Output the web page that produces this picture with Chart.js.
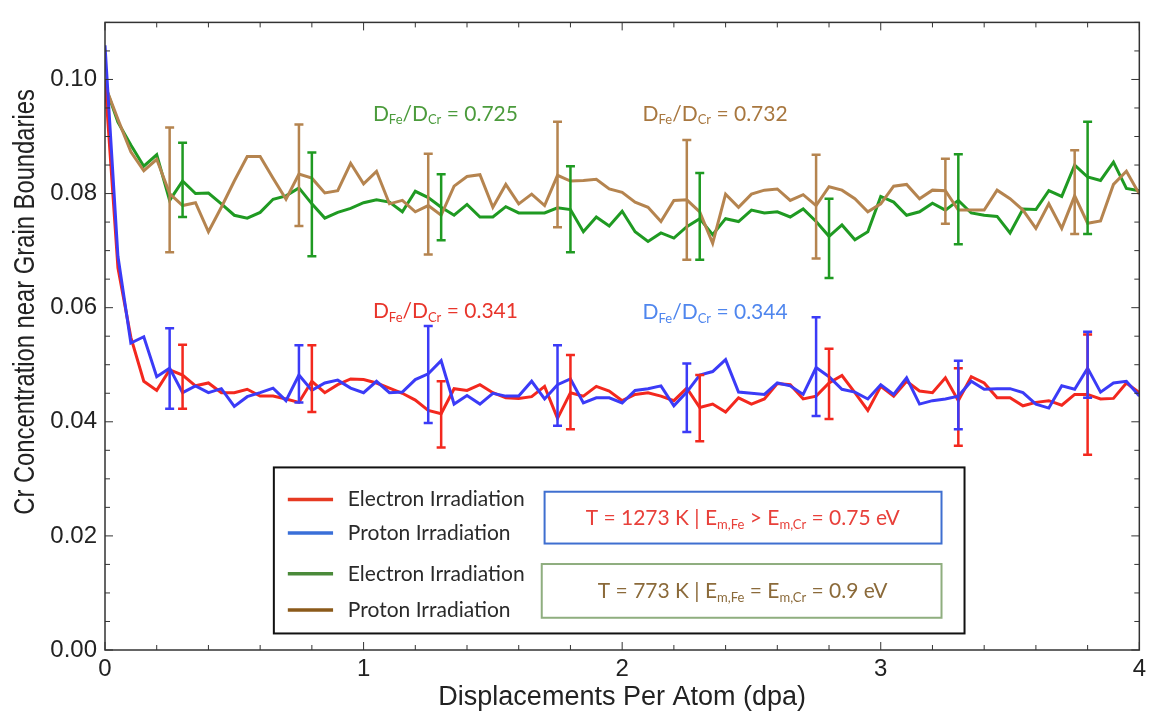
<!DOCTYPE html>
<html>
<head>
<meta charset="utf-8">
<script src="https://cdn.jsdelivr.net/npm/chart.js@4.4.1/dist/chart.umd.min.js"></script>
<style>
  html, body { margin: 0; padding: 0; background: #fff; }
  #wrap { width: 1151px; height: 714px; }
</style>
</head>
<body>
<div id="wrap"><canvas id="crChart" width="1151" height="714"></canvas></div>
<script>
// displacements per atom (x grid of the simulation output)
const dpa = [0, 0.05, 0.1, 0.15, 0.2, 0.25, 0.3, 0.35, 0.4, 0.45, 0.5, 0.55, 0.6, 0.65, 0.7, 0.75, 0.8, 0.85, 0.9, 0.95,
  1, 1.05, 1.1, 1.15, 1.2, 1.25, 1.3, 1.35, 1.4, 1.45, 1.5, 1.55, 1.6, 1.65, 1.7, 1.75, 1.8, 1.85, 1.9, 1.95,
  2, 2.05, 2.1, 2.15, 2.2, 2.25, 2.3, 2.35, 2.4, 2.45, 2.5, 2.55, 2.6, 2.65, 2.7, 2.75, 2.8, 2.85, 2.9, 2.95,
  3, 3.05, 3.1, 3.15, 3.2, 3.25, 3.3, 3.35, 3.4, 3.45, 3.5, 3.55, 3.6, 3.65, 3.7, 3.75, 3.8, 3.85, 3.9, 3.95, 4];

// 773 K, electron irradiation (green)
const green773 = [0.0990, 0.0925, 0.0885, 0.0848, 0.0868, 0.0788, 0.0822, 0.0800, 0.0801, 0.0782, 0.0762, 0.0757, 0.0767, 0.0790, 0.0796, 0.0810, 0.0782, 0.0757, 0.0767, 0.0774,
  0.0784, 0.0789, 0.0785, 0.0768, 0.0804, 0.0793, 0.0776, 0.0762, 0.0781, 0.0759, 0.0759, 0.0777, 0.0766, 0.0766, 0.0766, 0.0775, 0.0772, 0.0733, 0.0759, 0.0743,
  0.0769, 0.0733, 0.0716, 0.0731, 0.0722, 0.0742, 0.0756, 0.0728, 0.0756, 0.0751, 0.0771, 0.0766, 0.0768, 0.0759, 0.0773, 0.0751, 0.0725, 0.0745, 0.0719, 0.0733,
  0.0795, 0.0785, 0.0762, 0.0768, 0.0783, 0.0771, 0.0788, 0.0766, 0.0762, 0.0760, 0.0731, 0.0773, 0.0772, 0.0805, 0.0795, 0.0850, 0.0829, 0.0823, 0.0855, 0.0809, 0.0805];

// 773 K, proton irradiation (brown)
const brown773 = [0.0990, 0.0930, 0.0873, 0.0840, 0.0860, 0.0800, 0.0779, 0.0784, 0.0733, 0.0776, 0.0822, 0.0865, 0.0865, 0.0827, 0.0790, 0.0834, 0.0827, 0.0801, 0.0805, 0.0853,
  0.0817, 0.0839, 0.0782, 0.0788, 0.0768, 0.0779, 0.0762, 0.0813, 0.0830, 0.0833, 0.0776, 0.0816, 0.0782, 0.0799, 0.0779, 0.0832, 0.0822, 0.0823, 0.0825, 0.0808,
  0.0802, 0.0785, 0.0776, 0.0751, 0.0788, 0.0789, 0.0768, 0.0713, 0.0799, 0.0776, 0.0799, 0.0806, 0.0808, 0.0788, 0.0798, 0.0779, 0.0812, 0.0806, 0.0791, 0.0768,
  0.0782, 0.0813, 0.0816, 0.0791, 0.0806, 0.0805, 0.0771, 0.0771, 0.0771, 0.0806, 0.0791, 0.0771, 0.0739, 0.0782, 0.0739, 0.0796, 0.0748, 0.0752, 0.0816, 0.0839, 0.0799];

// 1273 K, electron irradiation (red)
const red1273 = [0.1000, 0.0670, 0.0548, 0.0471, 0.0455, 0.0491, 0.0482, 0.0463, 0.0468, 0.0451, 0.0451, 0.0457, 0.0445, 0.0445, 0.0440, 0.0434, 0.0471, 0.0451, 0.0465, 0.0475,
  0.0474, 0.0468, 0.0459, 0.0450, 0.0438, 0.0420, 0.0414, 0.0458, 0.0455, 0.0465, 0.0451, 0.0442, 0.0441, 0.0444, 0.0462, 0.0406, 0.0451, 0.0445, 0.0462, 0.0454,
  0.0437, 0.0448, 0.0451, 0.0445, 0.0437, 0.0459, 0.0425, 0.0431, 0.0417, 0.0442, 0.0431, 0.0440, 0.0467, 0.0465, 0.0440, 0.0445, 0.0468, 0.0481, 0.0451, 0.0420,
  0.0462, 0.0445, 0.0471, 0.0454, 0.0451, 0.0477, 0.0437, 0.0479, 0.0468, 0.0442, 0.0442, 0.0428, 0.0434, 0.0437, 0.0429, 0.0448, 0.0448, 0.0440, 0.0441, 0.0468, 0.0451];

// 1273 K, proton irradiation (blue)
const blue1273 = [0.1060, 0.0690, 0.0538, 0.0549, 0.0479, 0.0494, 0.0451, 0.0463, 0.0451, 0.0458, 0.0427, 0.0444, 0.0451, 0.0459, 0.0437, 0.0482, 0.0455, 0.0468, 0.0473, 0.0459,
  0.0451, 0.0471, 0.0451, 0.0452, 0.0474, 0.0484, 0.0507, 0.0431, 0.0446, 0.0431, 0.0450, 0.0445, 0.0445, 0.0471, 0.0440, 0.0465, 0.0475, 0.0433, 0.0442, 0.0442,
  0.0433, 0.0455, 0.0458, 0.0463, 0.0428, 0.0452, 0.0482, 0.0488, 0.0509, 0.0452, 0.0450, 0.0448, 0.0468, 0.0463, 0.0448, 0.0495, 0.0479, 0.0457, 0.0452, 0.0440,
  0.0465, 0.0448, 0.0477, 0.0431, 0.0437, 0.0440, 0.0445, 0.0471, 0.0457, 0.0458, 0.0458, 0.0451, 0.0431, 0.0424, 0.0463, 0.0457, 0.0494, 0.0452, 0.0468, 0.0471, 0.0445];

// error bars (x, low, high)
const brownBarX = [0.25, 0.75, 1.25, 1.75, 2.25, 2.75, 3.25, 3.75];
const brownBarLo = [0.0697, 0.0743, 0.0693, 0.0741, 0.0684, 0.0686, 0.0747, 0.0729];
const brownBarHi = [0.0916, 0.0921, 0.0870, 0.0926, 0.0894, 0.0868, 0.0861, 0.0876];
const greenBarX = [0.3, 0.8, 1.3, 1.8, 2.3, 2.8, 3.3, 3.8];
const greenBarLo = [0.0759, 0.0690, 0.0718, 0.0697, 0.0684, 0.0652, 0.0711, 0.0729];
const greenBarHi = [0.0889, 0.0872, 0.0834, 0.0848, 0.0836, 0.0791, 0.0869, 0.0926];
const blueBarX = [0.25, 0.75, 1.25, 1.75, 2.25, 2.75, 3.3, 3.8];
const blueBarLo = [0.0423, 0.0434, 0.0398, 0.0393, 0.0382, 0.0410, 0.0387, 0.0442];
const blueBarHi = [0.0564, 0.0534, 0.0568, 0.0534, 0.0502, 0.0583, 0.0507, 0.0558];
const redBarX = [0.3, 0.8, 1.3, 1.8, 2.3, 2.8, 3.3, 3.8];
const redBarLo = [0.0423, 0.0417, 0.0355, 0.0387, 0.0366, 0.0405, 0.0358, 0.0342];
const redBarHi = [0.0535, 0.0534, 0.0471, 0.0517, 0.0482, 0.0528, 0.0494, 0.0553];

const xTicks = [0, 1, 2, 3, 4];
const yTicks = [0, 0.02, 0.04, 0.06, 0.08, 0.10];

const yTitle = 'Cr Concentration near Grain Boundaries';
const xTitle = 'Displacements Per Atom (dpa)';
const legendLabels = ['Electron Irradiation', 'Proton Irradiation', 'Electron Irradiation', 'Proton Irradiation'];
const ratioLabels = ['0.725', '0.732', '0.341', '0.344'];

const C = {
  green: '#1f9a22', brown: '#b5844f', red: '#f3281e', blue: '#3b3bf7',
  gText: '#4b9b3c', bText: '#a8773f', rText: '#e8352b', uText: '#4f86ee',
  legRed: '#e63a22', legBlue: '#3a6fd8', legGreen: '#4a8a3a', legBrown: '#8b5a1a'
};
const AXIS_FONT = '"Liberation Sans", Arial, sans-serif';
const NOTE_FONT = 'Lato, "Open Sans", sans-serif';

function series(label, values, color) {
  return {
    label: label,
    data: dpa.map((x, i) => ({ x: x, y: values[i] })),
    borderColor: color,
    borderWidth: 3,
    pointRadius: 0,
    tension: 0,
    fill: false
  };
}

// text with subscripts: parts = [[text, isSub], ...]
function drawRich(ctx, parts, x, y, size, color, align) {
  ctx.save();
  ctx.fillStyle = color;
  ctx.textBaseline = 'alphabetic';
  ctx.textAlign = 'left';
  const main = size + 'px ' + NOTE_FONT;
  const sub = Math.round(size * 0.64) + 'px ' + NOTE_FONT;
  let w = 0;
  parts.forEach(p => { ctx.font = p[1] ? sub : main; w += ctx.measureText(p[0]).width; });
  let cx = align === 'center' ? x - w / 2 : x;
  parts.forEach(p => {
    ctx.font = p[1] ? sub : main;
    ctx.fillText(p[0], cx, p[1] ? y + size * 0.18 : y);
    cx += ctx.measureText(p[0]).width;
  });
  ctx.restore();
}

function ratioParts(val) {
  return [['D', false], ['Fe', true], ['/D', false], ['Cr', true], [' = ' + val, false]];
}

const decorPlugin = {
  id: 'decor',
  beforeDraw(chart) {
    const ctx = chart.ctx;
    ctx.save();
    ctx.fillStyle = '#fff';
    ctx.fillRect(0, 0, chart.width, chart.height);
    ctx.restore();
  },
  afterDatasetsDraw(chart) {
    const ctx = chart.ctx;
    const xs = chart.scales.x, ys = chart.scales.y;
    const bars = [
      [greenBarX, greenBarLo, greenBarHi, C.green],
      [brownBarX, brownBarLo, brownBarHi, C.brown],
      [redBarX, redBarLo, redBarHi, C.red],
      [blueBarX, blueBarLo, blueBarHi, C.blue]
    ];
    ctx.save();
    ctx.lineWidth = 2.5;
    bars.forEach(b => {
      ctx.strokeStyle = b[3];
      b[0].forEach((x, i) => {
        const px = xs.getPixelForValue(x);
        const lo = ys.getPixelForValue(b[1][i]);
        const hi = ys.getPixelForValue(b[2][i]);
        ctx.beginPath();
        ctx.moveTo(px, lo); ctx.lineTo(px, hi);
        ctx.moveTo(px - 4.5, lo); ctx.lineTo(px + 4.5, lo);
        ctx.moveTo(px - 4.5, hi); ctx.lineTo(px + 4.5, hi);
        ctx.stroke();
      });
    });
    ctx.restore();
  },
  afterDraw(chart) {
    const ctx = chart.ctx;
    const a = chart.chartArea;
    const xs = chart.scales.x, ys = chart.scales.y;
    const X = v => xs.getPixelForValue(v);
    const Y = v => ys.getPixelForValue(v);

    // frame with inward ticks on all four sides
    ctx.save();
    ctx.strokeStyle = '#333';
    ctx.lineWidth = 1.5;
    ctx.strokeRect(a.left, a.top, a.right - a.left, a.bottom - a.top);
    ctx.lineWidth = 1;
    ctx.beginPath();
    for (let k = 0; k <= 20; k++) {
      const v = k * 0.2;
      const len = (k % 5 === 0) ? 8 : 5;
      const px = X(v);
      ctx.moveTo(px, a.bottom); ctx.lineTo(px, a.bottom - len);
      ctx.moveTo(px, a.top); ctx.lineTo(px, a.top + len);
    }
    for (let k = 0; k <= 22; k++) {
      const v = k * 0.005;
      const len = (k % 4 === 0) ? 8 : 5;
      const py = Y(v);
      ctx.moveTo(a.left, py); ctx.lineTo(a.left + len, py);
      ctx.moveTo(a.right, py); ctx.lineTo(a.right - len, py);
    }
    ctx.stroke();
    ctx.restore();

    // y axis title, narrow like the source figure
    ctx.save();
    ctx.translate(26, Y(0.061));
    ctx.rotate(-Math.PI / 2);
    ctx.scale(0.82, 1);
    ctx.font = '29px ' + AXIS_FONT;
    ctx.fillStyle = '#222';
    ctx.textAlign = 'center';
    ctx.textBaseline = 'middle';
    ctx.fillText(yTitle, 0, 0);
    ctx.restore();

    // diffusion ratio notes
    drawRich(ctx, ratioParts(ratioLabels[0]), X(1.036), Y(0.0928), 21, C.gText, 'left');
    drawRich(ctx, ratioParts(ratioLabels[1]), X(2.079), Y(0.0928), 21, C.bText, 'left');
    drawRich(ctx, ratioParts(ratioLabels[2]), X(1.036), Y(0.0582), 21, C.rText, 'left');
    drawRich(ctx, ratioParts(ratioLabels[3]), X(2.079), Y(0.0580), 21, C.uText, 'left');

    // legend box
    ctx.save();
    ctx.fillStyle = '#fff';
    ctx.fillRect(X(0.653), Y(0.0320), X(3.324) - X(0.653), Y(0.0029) - Y(0.0320));
    ctx.strokeStyle = '#111';
    ctx.lineWidth = 2;
    ctx.strokeRect(X(0.653), Y(0.0320), X(3.324) - X(0.653), Y(0.0029) - Y(0.0320));

    const rows = [0.02637, 0.0205, 0.01335, 0.00702];
    const legCols = [C.legRed, C.legBlue, C.legGreen, C.legBrown];
    ctx.lineWidth = 3.5;
    ctx.font = '21px ' + NOTE_FONT;
    ctx.textBaseline = 'middle';
    ctx.textAlign = 'left';
    rows.forEach((r, i) => {
      ctx.strokeStyle = legCols[i];
      ctx.beginPath();
      ctx.moveTo(X(0.707), Y(r)); ctx.lineTo(X(0.882), Y(r));
      ctx.stroke();
      ctx.fillStyle = '#2a2a2a';
      ctx.fillText(legendLabels[i], X(0.939), Y(r));
    });

    ctx.lineWidth = 2;
    ctx.strokeStyle = '#3f6fd0';
    ctx.strokeRect(X(1.700), Y(0.02774), X(3.235) - X(1.700), Y(0.01866) - Y(0.02774));
    ctx.strokeStyle = '#8fae7f';
    ctx.strokeRect(X(1.689), Y(0.01507), X(3.235) - X(1.689), Y(0.00565) - Y(0.01507));
    ctx.restore();

    drawRich(ctx, [['T = 1273 K | E', false], ['m,Fe', true], [' > E', false], ['m,Cr', true], [' = 0.75 eV', false]],
      X(2.466), Y(0.0219), 21, '#e8403a', 'center');
    drawRich(ctx, [['T = 773 K | E', false], ['m,Fe', true], [' = E', false], ['m,Cr', true], [' = 0.9 eV', false]],
      X(2.466), Y(0.0091), 21, '#8b6a3a', 'center');
  }
};

new Chart(document.getElementById('crChart').getContext('2d'), {
  type: 'line',
  data: {
    datasets: [
      series('Proton Irradiation, 1273 K', blue1273, C.blue),
      series('Electron Irradiation, 1273 K', red1273, C.red),
      series('Proton Irradiation, 773 K', brown773, C.brown),
      series('Electron Irradiation, 773 K', green773, C.green)
    ]
  },
  options: {
    responsive: false,
    animation: false,
    devicePixelRatio: 1,
    layout: { autoPadding: false, padding: { top: 7, right: 11, left: 0, bottom: 0 } },
    plugins: { legend: { display: false }, tooltip: { enabled: false } },
    scales: {
      x: {
        type: 'linear', min: 0, max: 4,
        grid: { display: false, drawTicks: false },
        border: { display: false },
        afterBuildTicks: s => { s.ticks = xTicks.map(v => ({ value: v })); },
        afterFit: s => { s.height = 64; },
        ticks: { padding: 5, color: '#222', autoSkip: false, maxRotation: 0,
          font: { family: AXIS_FONT, size: 24 }, callback: v => String(v) },
        title: { display: true, text: xTitle, color: '#222',
          font: { family: AXIS_FONT, size: 27 }, padding: { top: 7, bottom: 0 } }
      },
      y: {
        type: 'linear', min: 0, max: 0.11,
        grid: { display: false, drawTicks: false },
        border: { display: false },
        afterBuildTicks: s => { s.ticks = yTicks.map(v => ({ value: v })); },
        afterFit: s => { s.width = 105; },
        ticks: { padding: 8, color: '#222', autoSkip: false,
          font: { family: AXIS_FONT, size: 24 }, callback: v => Number(v).toFixed(2) },
        title: { display: false }
      }
    }
  },
  plugins: [decorPlugin]
});
</script>
</body>
</html>
